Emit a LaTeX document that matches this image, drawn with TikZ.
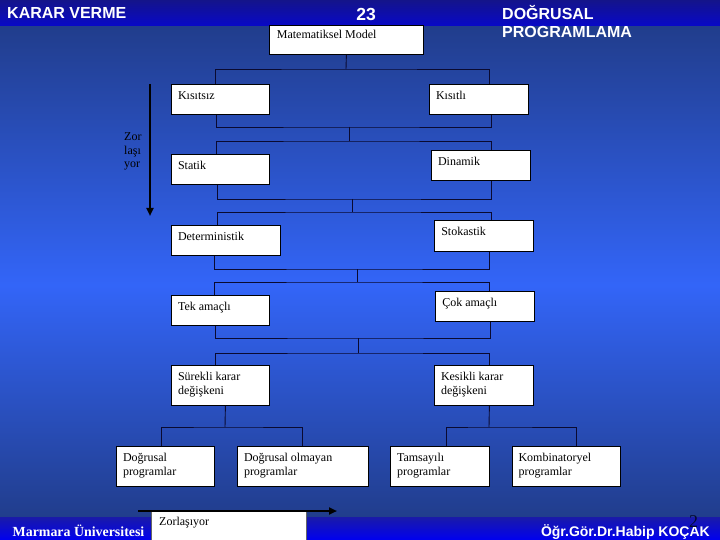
\documentclass[tikz,border=0pt]{standalone}
\usepackage{fontspec}
\setmainfont{Liberation Serif}
\setsansfont{Liberation Sans}
\usetikzlibrary{arrows.meta}
\definecolor{navyA}{HTML}{213D8C}
\definecolor{brightB}{HTML}{3365F8}
\definecolor{barTop}{HTML}{14148A}
\definecolor{barMid}{HTML}{0000F5}
\definecolor{barBot}{HTML}{0808C8}
\definecolor{footTop}{HTML}{1A1AA8}
\definecolor{footMid}{HTML}{0008F2}
\definecolor{footBot}{HTML}{0000F0}
\definecolor{lineC}{HTML}{0A0A30}
\definecolor{pageno}{HTML}{050A30}
\newcommand\mybox[6]{%
  \node[box, minimum width={(#4)-(#2)}, minimum height={(#5)-(#3)}] (#1) at (#2,#3) {};
  \node[lbl] (#1t) at ([shift={(6.8pt,-15.5pt)}]#1.north west) {#6};}
\newcommand\myboxtwo[6]{%
  \node[box, minimum width={(#4)-(#2)}, minimum height={(#5)-(#3)}] (#1) at (#2,#3) {};
  \node[lbl] (#1t) at ([shift={(6.8pt,-29.5pt)}]#1.north west) {#6};}
\begin{document}
\begin{tikzpicture}[x=1pt,y=-1pt,
  box/.style={draw=black, line width=0.8pt, fill=white, anchor=north west, inner sep=0pt},
  lbl/.style={anchor=base west, inner sep=0pt, font=\fontsize{12}{14}\selectfont, align=left, text=black},
  conn/.style={draw=lineC, line width=0.9pt},
  hdr/.style={text=white, font=\sffamily\bfseries\fontsize{16}{18.7}\selectfont, inner sep=0pt},
  bigarrow/.style={line width=2pt, draw=black, -{Triangle[length=8pt,width=7pt]}}
]
\useasboundingbox (0,0) rectangle (720,540);
% background
\shade[top color=navyA, bottom color=brightB] (0,26) rectangle (720,285);
\shade[top color=brightB, bottom color=navyA] (0,285) rectangle (720,517);
\shade[top color=barTop, middle color=barMid, bottom color=barBot] (0,0) rectangle (720,26);
\shade[top color=footTop, middle color=footMid, bottom color=footBot] (0,517) rectangle (720,540);
% header / footer
\node[hdr, anchor=base west] (kv) at (7,19) {KARAR VERME};
\node[hdr, anchor=base, font=\sffamily\bfseries\fontsize{17.5}{20}\selectfont] (num) at (366,20.5) {23};
\node[hdr, anchor=base west, align=left] (dgp) at (502,38) {DOĞRUSAL\\PROGRAMLAMA};
\node[anchor=base west, inner sep=0pt, text=white, font=\bfseries\fontsize{13.9}{16}\selectfont] (mu) at (12.5,536) {Marmara Üniversitesi};
\node[anchor=base east, inner sep=0pt, text=white, font=\sffamily\bfseries\fontsize{14}{16}\selectfont] (auth) at (710,536) {Öğr.Gör.Dr.Habip KOÇAK};
\node[anchor=base west, inner sep=0pt, text=pageno, font=\fontsize{18}{20}\selectfont] (pg) at (689,527) {2};
% boxes
\node[box, minimum width=154pt, minimum height=29pt] (mm) at (269,25) {};
\node[lbl] (mmt) at ([shift={(7.7pt,-14pt)}]mm.north west) {Matematiksel Model};
\mybox{ksz}{171}{84}{269}{114}{Kısıtsız}
\mybox{kli}{429}{84}{528}{114}{Kısıtlı}
\mybox{sta}{171}{154}{269}{184}{Statik}
\mybox{din}{431}{150}{530}{180}{Dinamik}
\mybox{det}{171}{225.3}{280}{255.3}{Deterministik}
\mybox{sto}{434.3}{220.3}{533.3}{251.3}{Stokastik}
\mybox{tek}{171}{295.3}{269}{325.3}{Tek amaçlı}
\mybox{cok}{435.3}{291}{534.3}{321.3}{Çok amaçlı}
\myboxtwo{sur}{171}{365}{269}{405}{Sürekli karar\\değişkeni}
\myboxtwo{kes}{434}{365}{533}{405}{Kesikli karar\\değişkeni}
\myboxtwo{dp}{116}{446}{214}{486}{Doğrusal\\programlar}
\myboxtwo{dop}{237}{446}{368}{486}{Doğrusal olmayan\\programlar}
\myboxtwo{tam}{390}{446}{489}{486}{Tamsayılı\\programlar}
\myboxtwo{kom}{511.5}{446}{620}{486}{Kombinatoryel\\programlar}
% connectors
\coordinate (j1) at (346,69);
\draw[conn] (mm.south) -- (j1);
\draw[conn] ([xshift=-5pt]ksz.north) |- (j1) -| ([xshift=10.5pt]kli.north);
\coordinate (j2a) at (349,127);
\coordinate (j2b) at (349,141);
\draw[conn] ([xshift=-4.3pt]ksz.south) |- (j2a) -| ([xshift=12.5pt]kli.south);
\draw[conn] (j2a) -- (j2b);
\draw[conn] ([xshift=-4.3pt]sta.north) |- (j2b) -| ([xshift=10.5pt]din.north);
\coordinate (j3a) at (352,199);
\coordinate (j3b) at (352,212);
\draw[conn] ([xshift=-3pt]sta.south) |- (j3a) -| ([xshift=10.5pt]din.south);
\draw[conn] (j3a) -- (j3b);
\draw[conn] ([xshift=-8.5pt]det.north) |- (j3b) -| ([xshift=7.2pt]sto.north);
\coordinate (j4a) at (357,269);
\coordinate (j4b) at (357,282);
\draw[conn] ([xshift=-11.5pt]det.south) |- (j4a) -| ([xshift=5.2pt]sto.south);
\draw[conn] (j4a) -- (j4b);
\draw[conn] ([xshift=-6pt]tek.north) |- (j4b) -| ([xshift=4.2pt]cok.north);
\coordinate (j5a) at (358,338);
\coordinate (j5b) at (358,353);
\draw[conn] ([xshift=-5.3pt]tek.south) |- (j5a) -| ([xshift=5.2pt]cok.south);
\draw[conn] (j5a) -- (j5b);
\draw[conn] ([xshift=-5.3pt]sur.north) |- (j5b) -| ([xshift=5.5pt]kes.north);
\coordinate (j6) at (225,427);
\draw[conn] ([xshift=5pt]sur.south) -- (j6);
\draw[conn] ([xshift=-4.4pt]dp.north) |- (j6) -| (dop.north);
\coordinate (j7) at (489,427);
\draw[conn] ([xshift=5.5pt]kes.south) -- (j7);
\draw[conn] ([xshift=6.5pt]tam.north) |- (j7) -| ([xshift=10.25pt]kom.north);
% difficulty arrows
\node[lbl, font=\fontsize{12}{13.5}\selectfont] (zly) at (124,168) {Zor\\laşı\\yor};
\coordinate (va1) at (150,84);
\coordinate (va2) at (150,216);
\draw[bigarrow] (va1) -- (va2);
\node[box, draw=black!60, line width=0.5pt, minimum width=155pt, minimum height=29pt] (zbox) at (151,511) {};
\node[lbl] (zboxt) at (159,525) {Zorlaşıyor};
\coordinate (ha1) at (138,511);
\coordinate (ha2) at (337,511);
\draw[bigarrow] (ha1) -- (ha2);
\end{tikzpicture}
\end{document}
